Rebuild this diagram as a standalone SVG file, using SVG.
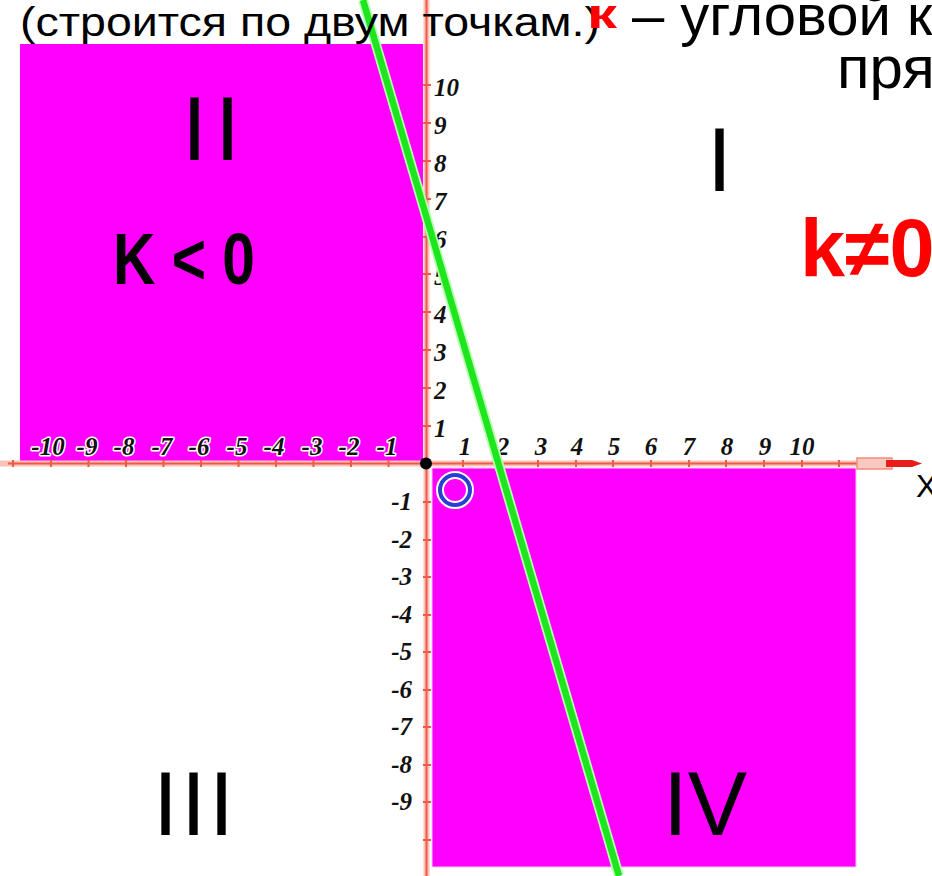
<svg xmlns="http://www.w3.org/2000/svg" width="932" height="876" viewBox="0 0 932 876">
<style>
.reg{font-family:"Liberation Sans",Arial,sans-serif;fill:#000}
.bold{font-family:"Liberation Sans",Arial,sans-serif;font-weight:bold}
.roman{font-family:"Liberation Sans",Arial,sans-serif;font-size:90px;fill:#000}
.tl{font-family:"Liberation Serif","Times New Roman",serif;font-weight:bold;font-style:italic;font-size:25px;fill:#111;stroke:#fff;stroke-width:3px;paint-order:stroke;stroke-linejoin:round}
.axisU{stroke:#f9c2b8;stroke-width:6;fill:none}
.axis{stroke:#ee5a48;stroke-width:2;fill:none}
.tick{stroke:#ee5a48;stroke-width:2}
.mag{fill:#ff00ff}
</style>
<rect width="932" height="876" fill="#fff"/>
<g id="quadrant-II-region"><rect class="mag" x="20" y="44" width="403" height="417"/></g>
<g id="quadrant-IV-region"><rect class="mag" x="432" y="468" width="424" height="399" stroke="#f6c8f6" stroke-width="1"/></g>
<g id="axes">
<line class="axisU" x1="0" y1="463.5" x2="892" y2="463.5"/>
<line class="axisU" x1="426.5" y1="0" x2="426.5" y2="876"/>
<line class="axis" x1="8" y1="463.5" x2="892" y2="463.5"/>
<line class="axis" x1="426.5" y1="0" x2="426.5" y2="876"/>
<path d="M857 458 L892 458 L892 469 L857 469 Z" fill="#f9c8c0" stroke="#f28a7c" stroke-width="1.5"/>
<path d="M886 460 L912 460 L922 463.5 L912 467 L886 467 Z" fill="#e81c1c"/>
<g class="tick">
<line x1="13" y1="460" x2="13" y2="467"/><line x1="51" y1="460" x2="51" y2="467"/><line x1="88.5" y1="460" x2="88.5" y2="467"/><line x1="126" y1="460" x2="126" y2="467"/><line x1="163.5" y1="460" x2="163.5" y2="467"/><line x1="201" y1="460" x2="201" y2="467"/><line x1="238.5" y1="460" x2="238.5" y2="467"/><line x1="276" y1="460" x2="276" y2="467"/><line x1="313.5" y1="460" x2="313.5" y2="467"/><line x1="351" y1="460" x2="351" y2="467"/><line x1="388.5" y1="460" x2="388.5" y2="467"/>
<line x1="463" y1="460" x2="463" y2="467"/><line x1="501" y1="460" x2="501" y2="467"/><line x1="538" y1="460" x2="538" y2="467"/><line x1="576" y1="460" x2="576" y2="467"/><line x1="613" y1="460" x2="613" y2="467"/><line x1="651" y1="460" x2="651" y2="467"/><line x1="689" y1="460" x2="689" y2="467"/><line x1="726" y1="460" x2="726" y2="467"/><line x1="764" y1="460" x2="764" y2="467"/><line x1="802" y1="460" x2="802" y2="467"/><line x1="839" y1="460" x2="839" y2="467"/>
<line x1="423" y1="85" x2="431" y2="85"/><line x1="423" y1="123" x2="431" y2="123"/><line x1="423" y1="161" x2="431" y2="161"/><line x1="423" y1="199" x2="431" y2="199"/><line x1="423" y1="237" x2="431" y2="237"/><line x1="423" y1="274" x2="431" y2="274"/><line x1="423" y1="312" x2="431" y2="312"/><line x1="423" y1="350" x2="431" y2="350"/><line x1="423" y1="388" x2="431" y2="388"/><line x1="423" y1="426" x2="431" y2="426"/>
<line x1="423" y1="502" x2="431" y2="502"/><line x1="423" y1="540" x2="431" y2="540"/><line x1="423" y1="577" x2="431" y2="577"/><line x1="423" y1="615" x2="431" y2="615"/><line x1="423" y1="652" x2="431" y2="652"/><line x1="423" y1="690" x2="431" y2="690"/><line x1="423" y1="727" x2="431" y2="727"/><line x1="423" y1="765" x2="431" y2="765"/><line x1="423" y1="802" x2="431" y2="802"/><line x1="423" y1="840" x2="431" y2="840"/>
</g>
<circle cx="426" cy="463.5" r="6" fill="#000"/>
</g>
<g id="tick-labels">
<g text-anchor="middle">
<text class="tl" x="48" y="455">-10</text><text class="tl" x="87" y="455">-9</text><text class="tl" x="124" y="455">-8</text><text class="tl" x="162" y="455">-7</text><text class="tl" x="199" y="455">-6</text><text class="tl" x="237" y="455">-5</text><text class="tl" x="274" y="455">-4</text><text class="tl" x="312" y="455">-3</text><text class="tl" x="349" y="455">-2</text><text class="tl" x="387" y="455">-1</text>
<text class="tl" x="465" y="455">1</text><text class="tl" x="503" y="455">2</text><text class="tl" x="541" y="455">3</text><text class="tl" x="577" y="455">4</text><text class="tl" x="614" y="455">5</text><text class="tl" x="651" y="455">6</text><text class="tl" x="689" y="455">7</text><text class="tl" x="727" y="455">8</text><text class="tl" x="765" y="455">9</text><text class="tl" x="802" y="455">10</text>
</g>
<text class="tl" x="434" y="96">10</text><text class="tl" x="434" y="134">9</text><text class="tl" x="434" y="172">8</text><text class="tl" x="434" y="210">7</text><text class="tl" x="434" y="248">6</text><text class="tl" x="434" y="285">5</text><text class="tl" x="434" y="323">4</text><text class="tl" x="434" y="361">3</text><text class="tl" x="434" y="399">2</text><text class="tl" x="434" y="437">1</text>
<g text-anchor="end">
<text class="tl" x="412" y="510">-1</text><text class="tl" x="412" y="548">-2</text><text class="tl" x="412" y="585">-3</text><text class="tl" x="412" y="623">-4</text><text class="tl" x="412" y="660">-5</text><text class="tl" x="412" y="698">-6</text><text class="tl" x="412" y="735">-7</text><text class="tl" x="412" y="773">-8</text><text class="tl" x="412" y="810">-9</text>
</g>
</g>
<g id="line-graph">
<line x1="363" y1="0" x2="619" y2="876" stroke="#b8ffb0" stroke-width="10"/>
<line x1="363" y1="0" x2="619" y2="876" stroke="#1ee61e" stroke-width="6.5"/>
</g>
<g id="marker-circle">
<circle cx="455" cy="490" r="15" fill="none" stroke="#fff" stroke-width="8"/>
<circle cx="455" cy="490" r="15" fill="none" stroke="#2a3ed0" stroke-width="4"/>
</g>
<g id="x-label"><text class="reg" x="916" y="497" font-size="32">X</text></g>
<g id="quadrant-labels">
<text class="roman" x="182" y="160" letter-spacing="8">II</text>
<text class="roman" x="707" y="191" font-size="74">I</text>
<text class="roman" x="153" y="835" letter-spacing="3">III</text>
<text class="roman" x="663" y="835" textLength="84" lengthAdjust="spacingAndGlyphs">IV</text>
</g>
<g id="k-negative"><text class="bold" x="113" y="284" font-size="72" fill="#000" textLength="142" lengthAdjust="spacingAndGlyphs">K &lt; 0</text></g>
<g id="k-nonzero"><text class="bold" x="800" y="276" font-size="81" fill="#ff0000">k≠0,</text></g>
<g id="top-text">
<text class="reg" x="20" y="36" font-size="40" textLength="580" lengthAdjust="spacingAndGlyphs">(строится по двум точкам.)</text>
<text class="bold" transform="translate(587,28) scale(1.5,1)" font-size="40" fill="#ff0000">к</text>
<text class="reg" x="632" y="35" font-size="58">– угловой к</text>
<text class="reg" x="837" y="88" font-size="60">пря</text>
</g>
</svg>
